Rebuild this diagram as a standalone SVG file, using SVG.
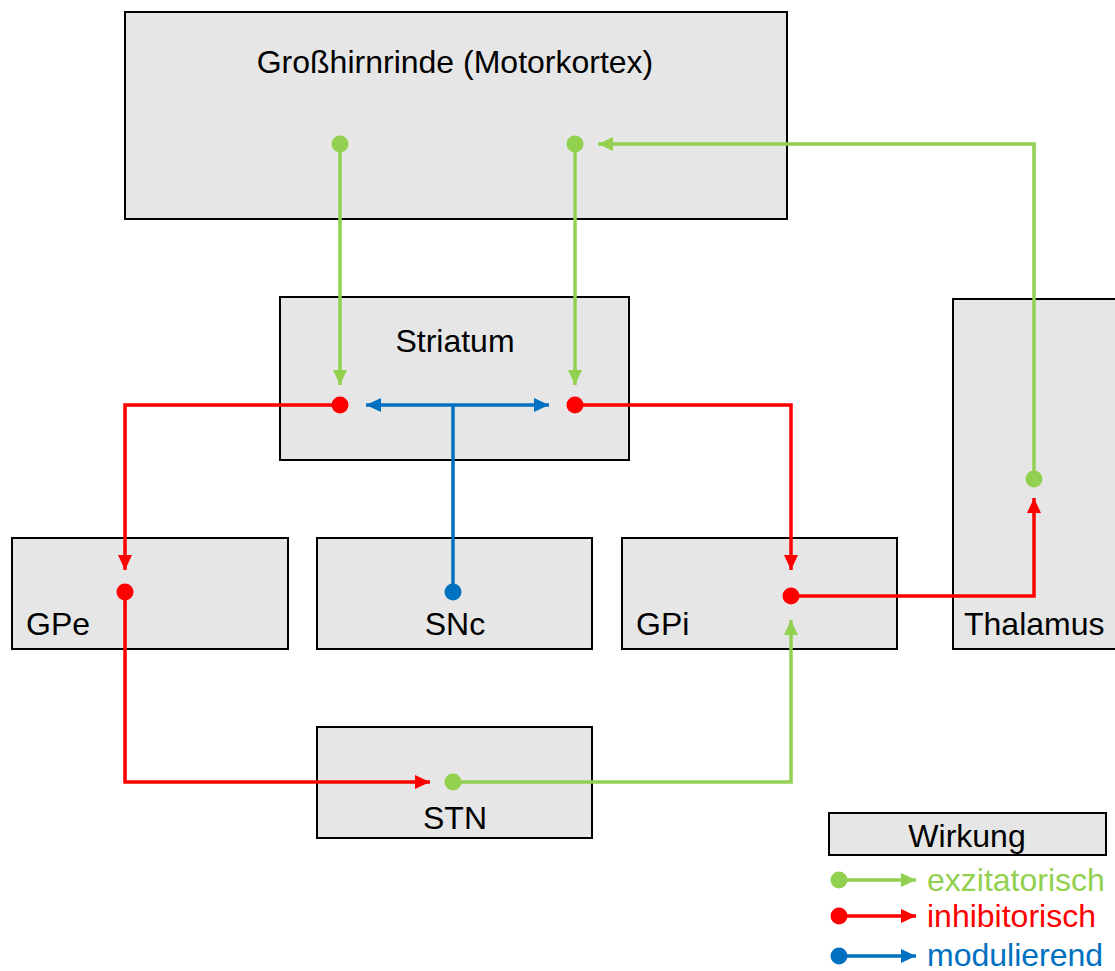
<svg xmlns="http://www.w3.org/2000/svg" width="1115" height="971" viewBox="0 0 1115 971">
<style>
.box{fill:#e6e6e6;stroke:#000;stroke-width:2}
text{font-family:"Liberation Sans",Arial,sans-serif;font-size:32px}
.c{fill:none;stroke-width:3.5}
.g{stroke:#92d050}.r{stroke:#ff0000}.b{stroke:#0070c0}
</style>
<defs>
<marker id="ag" markerUnits="userSpaceOnUse" viewBox="0 0 15 14" refX="15" refY="7" markerWidth="15" markerHeight="14" orient="auto"><path d="M0,0 L15,7 L0,14 Z" fill="#92d050"/></marker>
<marker id="ar" markerUnits="userSpaceOnUse" viewBox="0 0 15 14" refX="15" refY="7" markerWidth="15" markerHeight="14" orient="auto"><path d="M0,0 L15,7 L0,14 Z" fill="#ff0000"/></marker>
<marker id="ab" markerUnits="userSpaceOnUse" viewBox="0 0 15 14" refX="15" refY="7" markerWidth="15" markerHeight="14" orient="auto"><path d="M0,0 L15,7 L0,14 Z" fill="#0070c0"/></marker>
</defs>
<rect width="1115" height="971" fill="#fff"/>
<g id="cortex"><rect class="box" x="125" y="12" width="662" height="207"/><text x="455" y="73" text-anchor="middle">Großhirnrinde (Motorkortex)</text></g>
<g id="striatum"><rect class="box" x="280" y="297" width="349" height="163"/><text x="455" y="352" text-anchor="middle">Striatum</text></g>
<g id="gpe"><rect class="box" x="12" y="538" width="276" height="111"/><text x="26" y="635">GPe</text></g>
<g id="snc"><rect class="box" x="317" y="538" width="275" height="111"/><text x="455" y="635" text-anchor="middle">SNc</text></g>
<g id="gpi"><rect class="box" x="622" y="538" width="275" height="111"/><text x="636" y="635">GPi</text></g>
<g id="thalamus"><rect class="box" x="953" y="299" width="180" height="350"/><text x="964" y="635">Thalamus</text></g>
<g id="stn"><rect class="box" x="317" y="727" width="275" height="111"/><text x="455" y="829" text-anchor="middle">STN</text></g>
<g id="legend"><rect class="box" x="829" y="813" width="277" height="42"/><text x="967" y="847" text-anchor="middle">Wirkung</text>
<path class="c g" d="M839,880 H916" marker-end="url(#ag)"/><circle cx="839" cy="880" r="8.5" fill="#92d050"/><text x="927" y="891" fill="#92d050">exzitatorisch</text>
<path class="c r" d="M839,916 H916" marker-end="url(#ar)"/><circle cx="839" cy="916" r="8.5" fill="#ff0000"/><text x="927" y="927" fill="#ff0000">inhibitorisch</text>
<path class="c b" d="M839,956 H916" marker-end="url(#ab)"/><circle cx="839" cy="956" r="8.5" fill="#0070c0"/><text x="927" y="966" fill="#0070c0">modulierend</text>
</g>
<g id="connectors">
<path class="c g" d="M340,144 V385" marker-end="url(#ag)"/><circle cx="340" cy="144" r="8.5" fill="#92d050"/>
<path class="c g" d="M575,144 V385" marker-end="url(#ag)"/><circle cx="575" cy="144" r="8.5" fill="#92d050"/>
<path class="c g" d="M1034,479 V144 H598" marker-end="url(#ag)"/><circle cx="1034" cy="479" r="8.5" fill="#92d050"/>
<path class="c r" d="M340,405 H125 V570" marker-end="url(#ar)"/><circle cx="340" cy="405" r="8.5" fill="#ff0000"/>
<path class="c r" d="M575,405 H791 V570" marker-end="url(#ar)"/><circle cx="575" cy="405" r="8.5" fill="#ff0000"/>
<path class="c b" d="M453,592 V405"/>
<path class="c b" d="M453,405 H366" marker-end="url(#ab)"/>
<path class="c b" d="M453,405 H549" marker-end="url(#ab)"/>
<circle cx="453" cy="592" r="8.5" fill="#0070c0"/>
<path class="c r" d="M125,592 V782 H430" marker-end="url(#ar)"/><circle cx="125" cy="592" r="8.5" fill="#ff0000"/>
<path class="c g" d="M453,782 H791 V620" marker-end="url(#ag)"/><circle cx="453" cy="782" r="8.5" fill="#92d050"/>
<path class="c r" d="M791,596 H1034 V498" marker-end="url(#ar)"/><circle cx="791" cy="596" r="8.5" fill="#ff0000"/>
</g>
</svg>
